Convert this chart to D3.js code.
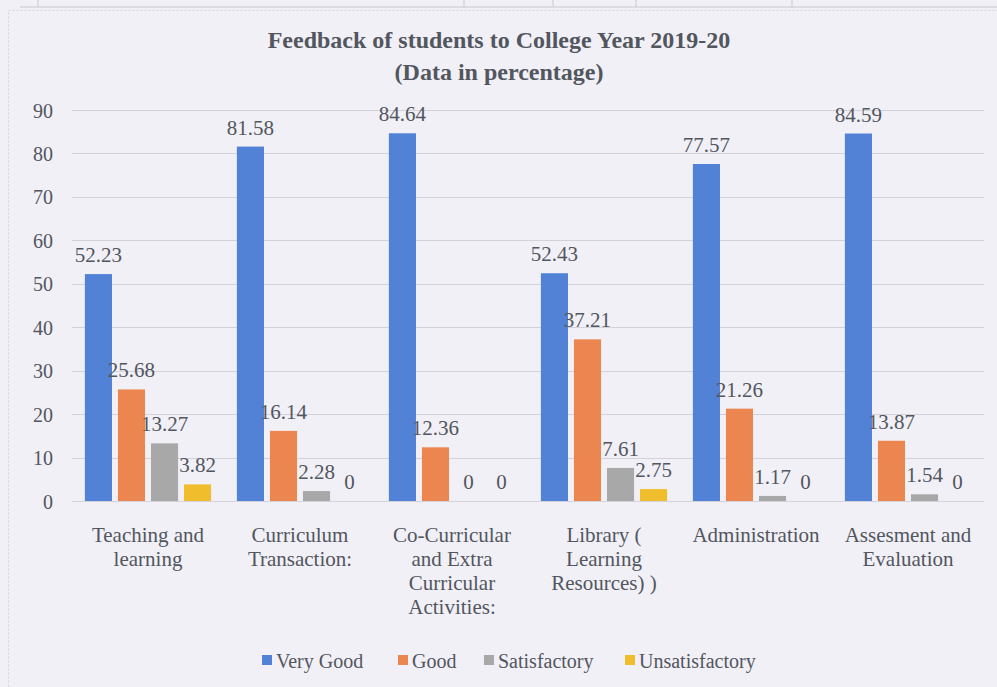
<!DOCTYPE html>
<html>
<head>
<meta charset="utf-8" />
<title>Feedback of students</title>
<script src="https://d3js.org/d3.v7.min.js"></script>
<style>
    html, body { margin: 0; padding: 0; background: #f1f0f6; }
    svg text { font-family: "Liberation Serif", Tinos, "Times New Roman", Times, "DejaVu Serif", serif; fill: #52565f; }
</style>
</head>
<body>
<svg width="997" height="687"></svg>
<script>
    // data
    var categories = [
        ["Teaching and", "learning"],
        ["Curriculum", "Transaction:"],
        ["Co-Curricular", "and Extra", "Curricular", "Activities:"],
        ["Library (", "Learning", "Resources) )"],
        ["Administration"],
        ["Assesment and", "Evaluation"]
    ];
    var seriesNames = ["Very Good", "Good", "Satisfactory", "Unsatisfactory"];
    var veryGood = [52.23, 81.58, 84.64, 52.43, 77.57, 84.59];
    var good = [25.68, 16.14, 12.36, 37.21, 21.26, 13.87];
    var satisfactory = [13.27, 2.28, 0, 7.61, 1.17, 1.54];
    var unsatisfactory = [3.82, 0, 0, 2.75, 0, 0];
    var yTicks = [0, 10, 20, 30, 40, 50, 60, 70, 80, 90];
    var colors = ["#5282d6", "#ec8650", "#a8a8a8", "#f0bd2c"];

    var series = [veryGood, good, satisfactory, unsatisfactory];
    var serif = '"Liberation Serif", Tinos, "Times New Roman", Times, "DejaVu Serif", serif';

    var svg = d3.select("svg");

    // scan leftovers: table edge at the top and chart border
    var edge = svg.append("g").attr("stroke", "#c9c8d0").attr("stroke-width", 1);
    edge.append("line").attr("x1", 20).attr("x2", 997).attr("y1", 7).attr("y2", 7);
    [38, 464, 553, 636, 792].forEach(function (x) {
        edge.append("line").attr("x1", x).attr("x2", x).attr("y1", 0).attr("y2", 7);
    });
    svg.append("rect").attr("x", 8.5).attr("y", 10.5).attr("width", 1000).attr("height", 700)
        .attr("fill", "none").attr("stroke", "#d6d5dd").attr("stroke-dasharray", "2,2");

    var x0 = d3.scaleBand().domain(d3.range(categories.length)).range([72, 984]).padding(0);
    var x1 = d3.scaleBand().domain(d3.range(seriesNames.length)).range([0, x0.bandwidth()])
        .paddingInner(0.18).paddingOuter(0.39);
    var y = d3.scaleLinear().domain([0, 90]).range([501, 110]);

    // gridlines
    svg.append("g").selectAll("line").data(yTicks).enter().append("line")
        .attr("x1", 72).attr("x2", 984)
        .attr("y1", function (d) { return Math.round(y(d)) + 0.5; })
        .attr("y2", function (d) { return Math.round(y(d)) + 0.5; })
        .attr("stroke", "#d3d2da").attr("stroke-width", 1);

    // y axis labels
    var yAxis = d3.axisLeft(y).tickValues(yTicks).tickSize(0).tickPadding(0);
    var ya = svg.append("g").attr("transform", "translate(53,0)").call(yAxis)
        .attr("font-family", serif);
    ya.select(".domain").remove();
    ya.selectAll("text").style("font-size", "20px").attr("dy", "0.35em")
        .style("font-family", serif).attr("fill", "#52565f");

    // bars
    var groups = svg.append("g").selectAll("g").data(categories).enter().append("g")
        .attr("transform", function (d, i) { return "translate(" + x0(i) + ",0)"; });

    groups.each(function (c, ci) {
        var g = d3.select(this);
        series.forEach(function (s, si) {
            var v = s[ci];
            g.append("rect")
                .attr("x", x1(si)).attr("width", x1.bandwidth())
                .attr("y", y(v)).attr("height", y(0) - y(v))
                .attr("fill", colors[si]);
            g.append("text")
                .attr("x", x1(si) + x1.bandwidth() / 2)
                .attr("y", y(v) - 12)
                .attr("text-anchor", "middle")
                .style("font-size", "21px")
                .style("font-family", serif)
                .text(v);
        });
        var t = g.append("text").attr("text-anchor", "middle").style("font-size", "21px")
            .style("font-family", serif)
            .attr("y", 542);
        c.forEach(function (line, li) {
            t.append("tspan").attr("x", x0.bandwidth() / 2).attr("dy", li === 0 ? 0 : 24).text(line);
        });
    });

    // title
    svg.append("text").attr("x", 499).attr("y", 48).attr("text-anchor", "middle")
        .style("font-size", "24px").style("font-weight", "bold").style("font-family", serif)
        .text("Feedback of students to College Year 2019-20");
    svg.append("text").attr("x", 499).attr("y", 80).attr("text-anchor", "middle")
        .style("font-size", "24px").style("font-weight", "bold").style("font-family", serif)
        .text("(Data in percentage)");

    // legend
    var legendX = [262, 398, 484, 625];
    var legend = svg.append("g").selectAll("g").data(seriesNames).enter().append("g")
        .attr("transform", function (d, i) { return "translate(" + legendX[i] + ",668)"; });
    legend.append("rect").attr("x", 0).attr("y", -13).attr("width", 10).attr("height", 10)
        .attr("fill", function (d, i) { return colors[i]; });
    legend.append("text").attr("x", 14).attr("y", 0).style("font-size", "20px")
        .style("font-family", serif)
        .text(function (d) { return d; });
</script>
</body>
</html>
